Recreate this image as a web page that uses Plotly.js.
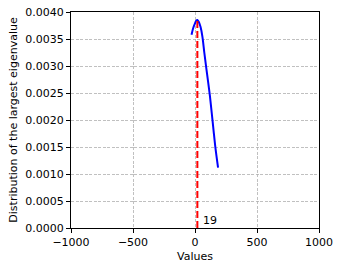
<!DOCTYPE html>
<html>
<head>
<meta charset="utf-8">
<script src="https://cdn.plot.ly/plotly-3.0.1.min.js"></script>
<style>html,body{margin:0;padding:0;background:#fff;}#chart{width:341px;height:271px;}</style>
</head>
<body>
<div id="chart"></div>
<script>
// Data
const curveX = [-28, -15, 0, 10, 19, 30, 45, 60, 75, 90, 105, 120, 135, 150, 165, 186];
const curveY = [0.00358, 0.00370, 0.00379, 0.00384, 0.00385, 0.00382, 0.00372, 0.00354, 0.00325, 0.00298, 0.00272, 0.00245, 0.00213, 0.00180, 0.00148, 0.00112];
const peakX = [19, 19];
const peakY = [0, 0.00385];
const peakLabel = "19";
const xTickVals = [-1000, -500, 0, 500, 1000];
const xTickText = ["\u22121000", "\u2212500", "0", "500", "1000"];
const yTickVals = [0, 0.0005, 0.001, 0.0015, 0.002, 0.0025, 0.003, 0.0035, 0.004];
const yTickText = ["0.0000", "0.0005", "0.0010", "0.0015", "0.0020", "0.0025", "0.0030", "0.0035", "0.0040"];

const font = {family: "DejaVu Sans, sans-serif", size: 11, color: "#000"};

const traces = [
  {x: curveX, y: curveY, type: "scatter", mode: "lines", line: {color: "#0000ff", width: 2, shape: "spline", smoothing: 0.8}, hoverinfo: "skip"},
  {x: peakX, y: peakY, type: "scatter", mode: "lines", line: {color: "#ff0000", width: 2, dash: "7px,3px"}, hoverinfo: "skip"}
];

const axisCommon = {
  showline: true, linecolor: "#000", linewidth: 1, mirror: true,
  ticks: "outside", ticklen: 4, tickwidth: 1, tickcolor: "#000",
  showgrid: true, gridcolor: "#b0b0b0", gridwidth: 0.8, griddash: "3px,1.5px",
  zeroline: false, tickfont: font
};

const layout = {
  width: 341, height: 271,
  margin: {l: 71, r: 22, t: 12, b: 43},
  paper_bgcolor: "#fff", plot_bgcolor: "#fff",
  showlegend: false,
  font: font,
  xaxis: Object.assign({}, axisCommon, {
    range: [-1000, 1000], tickmode: "array", tickvals: xTickVals, ticktext: xTickText,
    title: {text: "Values", font: font, standoff: 4}
  }),
  yaxis: Object.assign({}, axisCommon, {
    range: [0, 0.004], tickmode: "array", tickvals: yTickVals, ticktext: yTickText,
    title: {text: "Distribution of the largest eigenvalue", font: font, standoff: 5}
  }),
  annotations: [{
    x: peakX[0], y: 0, xref: "x", yref: "y", text: peakLabel, showarrow: false,
    xanchor: "left", yanchor: "bottom", xshift: 4, yshift: -1, font: font
  }]
};

Plotly.newPlot("chart", traces, layout, {staticPlot: true, displayModeBar: false});
</script>
</body>
</html>
